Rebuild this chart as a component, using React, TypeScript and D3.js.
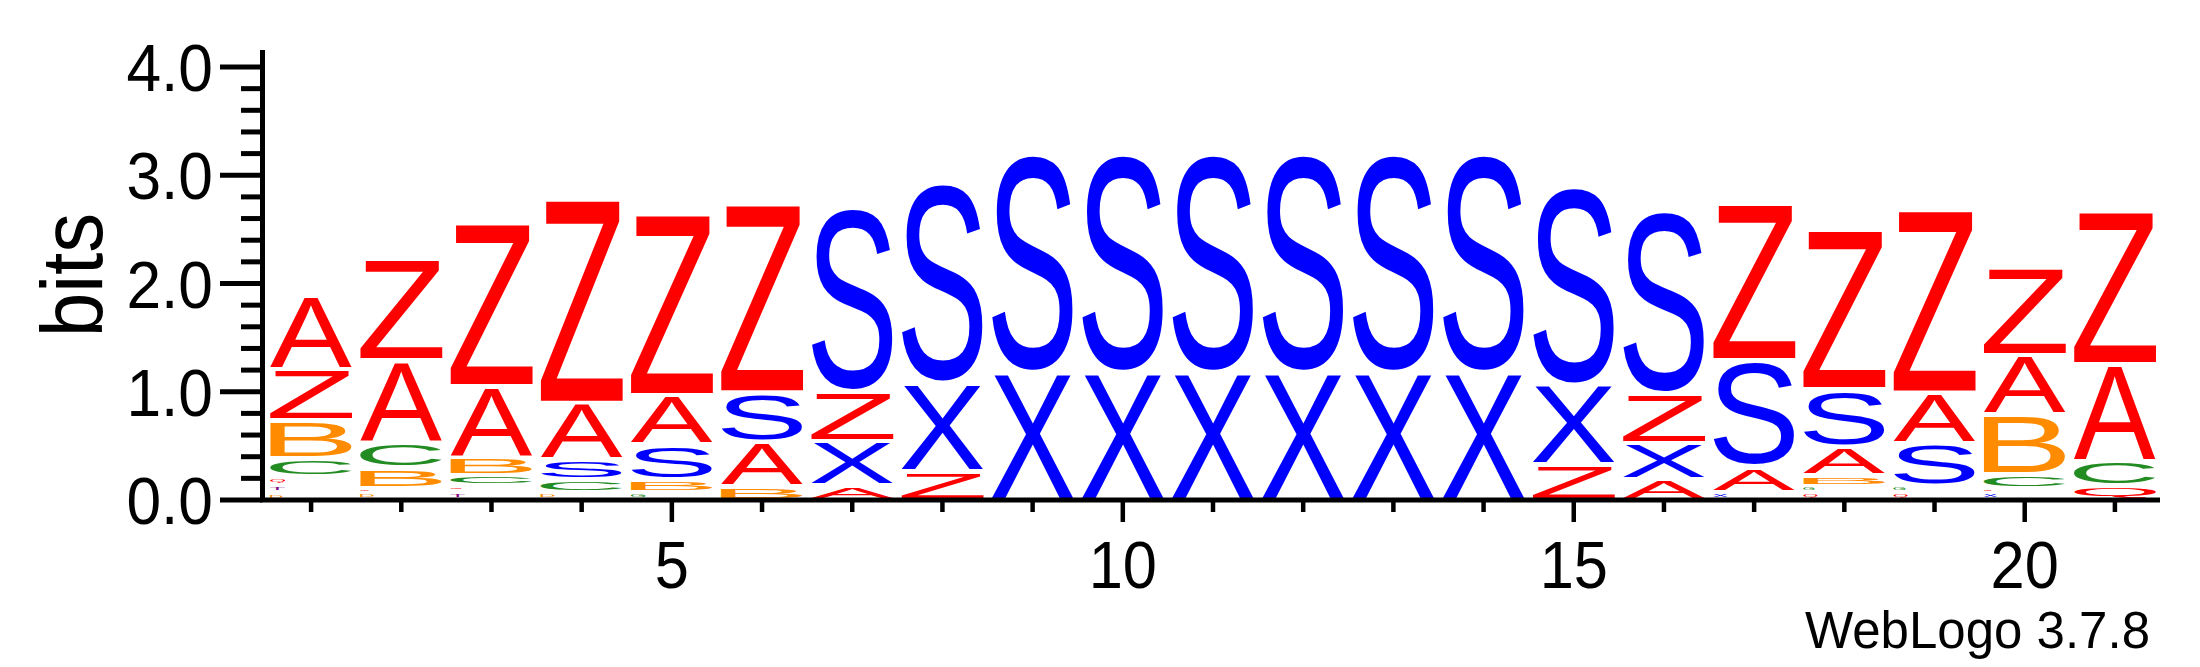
import React, { useMemo } from 'react';
import * as d3 from 'd3';

// sequence positions, and for each one the letters of the stack (bottom -> top) with their heights in bits
const positions = [1, 2, 3, 4, 5, 6, 7, 8, 9, 10, 11, 12, 13, 14, 15, 16, 17, 18, 19, 20, 21];

const stackLetters = [
    'DTQCBZA', 'DQBCAZ', 'TQCBAZ', 'DCSAZ', 'GBSAZ', 'BASZ', 'AXZS', 'ZXS',
    'XS', 'XS', 'XS', 'XS', 'XS', 'XS',
    'ZXS', 'AXZS', 'XASZ', 'QGBASZ', 'QGSAZ', 'XQCBAZ', 'QCAZ',
];

const stackBits = [
    [0.063, 0.076, 0.077, 0.166, 0.354, 0.474, 0.676],
    [0.069, 0.044, 0.187, 0.237, 0.756, 0.945],
    [0.074, 0.057, 0.1, 0.166, 0.651, 1.504],
    [0.072, 0.117, 0.185, 0.523, 1.885],
    [0.074, 0.115, 0.328, 0.451, 1.677],
    [0.127, 0.407, 0.459, 1.744],
    [0.134, 0.405, 0.459, 1.727],
    [0.27, 0.813, 1.873],
    [1.182, 2.042],
    [1.182, 2.042],
    [1.182, 2.042],
    [1.182, 2.042],
    [1.182, 2.042],
    [1.182, 2.042],
    [0.33, 0.735, 1.857],
    [0.191, 0.337, 0.457, 1.715],
    [0.074, 0.231, 0.987, 1.446],
    [0.072, 0.057, 0.097, 0.266, 0.527, 1.471],
    [0.072, 0.062, 0.394, 0.462, 1.693],
    [0.069, 0.04, 0.131, 0.552, 0.547, 0.816],
    [0.131, 0.229, 0.898, 1.416],
];

const yTickValues = [0, 1, 2, 3, 4];
const yMinorTicks = [0.2, 0.4, 0.6, 0.8, 1.2, 1.4, 1.6, 1.8, 2.2, 2.4, 2.6, 2.8, 3.2, 3.4, 3.6, 3.8];
const xLabelTicks = [5, 10, 15, 20];

const letterColor: Record<string, string> = {
    A: '#ff0000', Z: '#ff0000', Q: '#ff0000',
    S: '#0000ff', X: '#0000ff',
    B: '#ff8c00', D: '#ff8c00',
    C: '#228b22', G: '#228b22',
    T: '#800080',
};

const FONT = 'Liberation Sans, Arial, sans-serif';

function measureGlyphs(chars: string[]) {
    const canvas = document.createElement('canvas');
    const ctx = canvas.getContext('2d')!;
    ctx.font = '100px "Liberation Sans"';
    const boxes: Record<string, { left: number; right: number; ascent: number; descent: number }> = {};
    chars.forEach(ch => {
        const m = ctx.measureText(ch);
        boxes[ch] = {
            left: m.actualBoundingBoxLeft,
            right: m.actualBoundingBoxRight,
            ascent: m.actualBoundingBoxAscent,
            descent: m.actualBoundingBoxDescent,
        };
    });
    return boxes;
}

const App: React.FC = () => {
    const width = 2200;
    const height = 667;

    const x = d3.scaleLinear().domain([0.5, 21.5]).range([266, 2160]);
    const y = d3.scaleLinear().domain([0, 4]).range([500, 67]);
    const plotTop = 50;
    const letterWidth = (x(2) - x(1)) * 0.91;

    const glyphs = useMemo(() => measureGlyphs(Object.keys(letterColor)), []);

    const letters: JSX.Element[] = [];
    positions.forEach((pos, i) => {
        const chars = stackLetters[i].split('');
        const cum = d3.cumsum(stackBits[i]);
        chars.forEach((ch, j) => {
            const lo = j === 0 ? 0 : cum[j - 1];
            const hi = cum[j];
            const slot = y(lo) - y(hi);
            const pad = slot < 10 ? slot * 0.35 : 2.25;
            const inkH = slot - 2 * pad;
            const yTop = y(hi) + pad;
            // very small letters collapse to a short mark at the left of the column
            const w = inkH < 4 ? Math.max(3, inkH * 6) : letterWidth;
            const x0 = x(pos) - letterWidth / 2;
            const g = glyphs[ch];
            const sx = w / (g.left + g.right);
            const sy = inkH / (g.ascent + g.descent);
            letters.push(
                <text
                    key={`${i}-${j}`}
                    fontFamily={FONT}
                    fontSize={100}
                    fill={letterColor[ch]}
                    transform={`translate(${x0 + g.left * sx},${yTop + g.ascent * sy}) scale(${sx},${sy})`}
                >
                    {ch}
                </text>
            );
        });
    });

    const fmt = d3.format('.1f');

    return (
        <svg width={width} height={height} style={{ position: 'absolute', left: 0, top: 0, background: '#fff' }}>
            <rect width={width} height={height} fill="#fff" />
            {letters}

            {/* y axis */}
            <line x1={262.5} x2={262.5} y1={plotTop} y2={502.5} stroke="#000" strokeWidth={5} />
            {yTickValues.map(t => (
                <g key={t}>
                    <line x1={220} x2={262.5} y1={y(t)} y2={y(t)} stroke="#000" strokeWidth={5} />
                    <g transform={`translate(213,${y(t) + 24}) scale(0.93,1)`}>
                        <text fontFamily={FONT} fontSize={67} textAnchor="end" fill="#000">{fmt(t)}</text>
                    </g>
                </g>
            ))}
            {yMinorTicks.map(t => (
                <line key={t} x1={241} x2={262.5} y1={y(t)} y2={y(t)} stroke="#000" strokeWidth={5} />
            ))}
            <g transform="translate(102,275) rotate(-90) scale(0.92,1)">
                <text fontFamily={FONT} fontSize={87} textAnchor="middle" fill="#000">bits</text>
            </g>

            {/* x axis */}
            <line x1={265} x2={x(21.5)} y1={y(0)} y2={y(0)} stroke="#000" strokeWidth={5} />
            {positions.map(p => (
                <line key={p} x1={x(p)} x2={x(p)} y1={y(0)} y2={xLabelTicks.includes(p) ? 522 : 512}
                    stroke="#000" strokeWidth={4.5} />
            ))}
            {xLabelTicks.map(p => (
                <g key={p} transform={`translate(${x(p)},588) scale(0.93,1)`}>
                    <text fontFamily={FONT} fontSize={66} textAnchor="middle" fill="#000">{p}</text>
                </g>
            ))}

            <text x={2150} y={648} fontFamily={FONT} fontSize={51} textAnchor="end" fill="#000">WebLogo 3.7.8</text>
        </svg>
    );
};

export default App;
